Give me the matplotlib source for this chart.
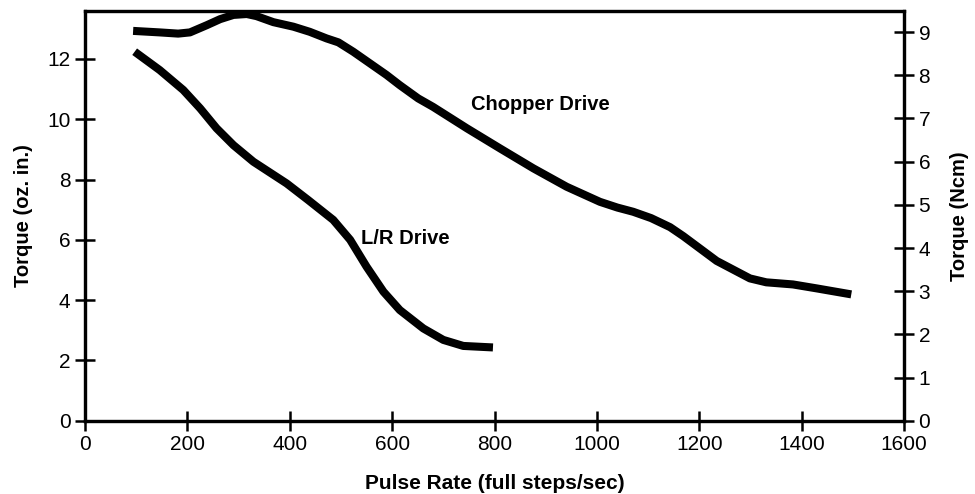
import matplotlib
matplotlib.use("Agg")
import matplotlib.pyplot as plt

plt.rcParams['font.family'] = ['Liberation Sans', 'DejaVu Sans']

chopper_x = [94, 146, 182, 205, 238, 264, 290, 316, 335, 368, 407, 439, 472, 495, 524, 589,
             615, 651, 680, 746, 811, 876, 941, 1006, 1040, 1071, 1106, 1143, 1169, 1234,
             1299, 1331, 1383, 1429, 1497]
chopper_y = [12.93, 12.88, 12.84, 12.88, 13.12, 13.32, 13.46, 13.49, 13.42, 13.22, 13.07, 12.90,
             12.68, 12.55, 12.24, 11.47, 11.13, 10.69, 10.41, 9.70, 9.03, 8.37, 7.76, 7.26,
             7.07, 6.93, 6.72, 6.42, 6.12, 5.30, 4.72, 4.59, 4.52, 4.39, 4.19]

lr_x = [97, 146, 192, 225, 257, 290, 329, 394, 436, 485, 518, 550, 583, 615, 661, 700, 739, 797]
lr_y = [12.24, 11.63, 10.97, 10.36, 9.70, 9.14, 8.59, 7.87, 7.32, 6.66, 6.0, 5.11, 4.28, 3.67,
        3.06, 2.68, 2.48, 2.43]

x_ticks = [0, 200, 400, 600, 800, 1000, 1200, 1400, 1600]
left_ticks = [0, 2, 4, 6, 8, 10, 12]
right_ticks = [0, 1, 2, 3, 4, 5, 6, 7, 8, 9]

fig = plt.figure(figsize=(9.75, 4.94), dpi=100)
ax = fig.add_axes([85/975, (494-420.7)/494, (904-85)/975, (420.7-11)/494])
ax.plot(chopper_x, chopper_y, color='black', lw=5.8, solid_capstyle='butt', solid_joinstyle='round')
ax.plot(lr_x, lr_y, color='black', lw=5.8, solid_capstyle='butt', solid_joinstyle='round')

ax.set_xlim(0, 1600)
ax.set_ylim(0, 13.59)
ax.set_xticks(x_ticks)
ax.set_yticks(left_ticks)
for s in ax.spines.values():
    s.set_linewidth(2.3)
ax.tick_params(direction='inout', length=15, width=1.8, labelsize=15, pad=3)

ax2 = ax.twinx()
ax2.set_ylim(0, 9.49)
ax2.set_yticks(right_ticks)
for s in ax2.spines.values():
    s.set_linewidth(2.3)
ax2.tick_params(direction='inout', length=15, width=1.8, labelsize=15, pad=3)

ax.set_xlabel('Pulse Rate (full steps/sec)', fontsize=15, fontweight='bold', labelpad=14)
ax.set_ylabel('Torque (oz. in.)', fontsize=14.5, fontweight='bold', labelpad=10)
ax2.set_ylabel('Torque (Ncm)', fontsize=14.5, fontweight='bold', labelpad=14)

ax.text(889, 10.5, 'Chopper Drive', fontsize=14.5, fontweight='bold', ha='center', va='center')
ax.text(625, 6.05, 'L/R Drive', fontsize=14.5, fontweight='bold', ha='center', va='center')

fig.savefig('out.png', dpi=100)
